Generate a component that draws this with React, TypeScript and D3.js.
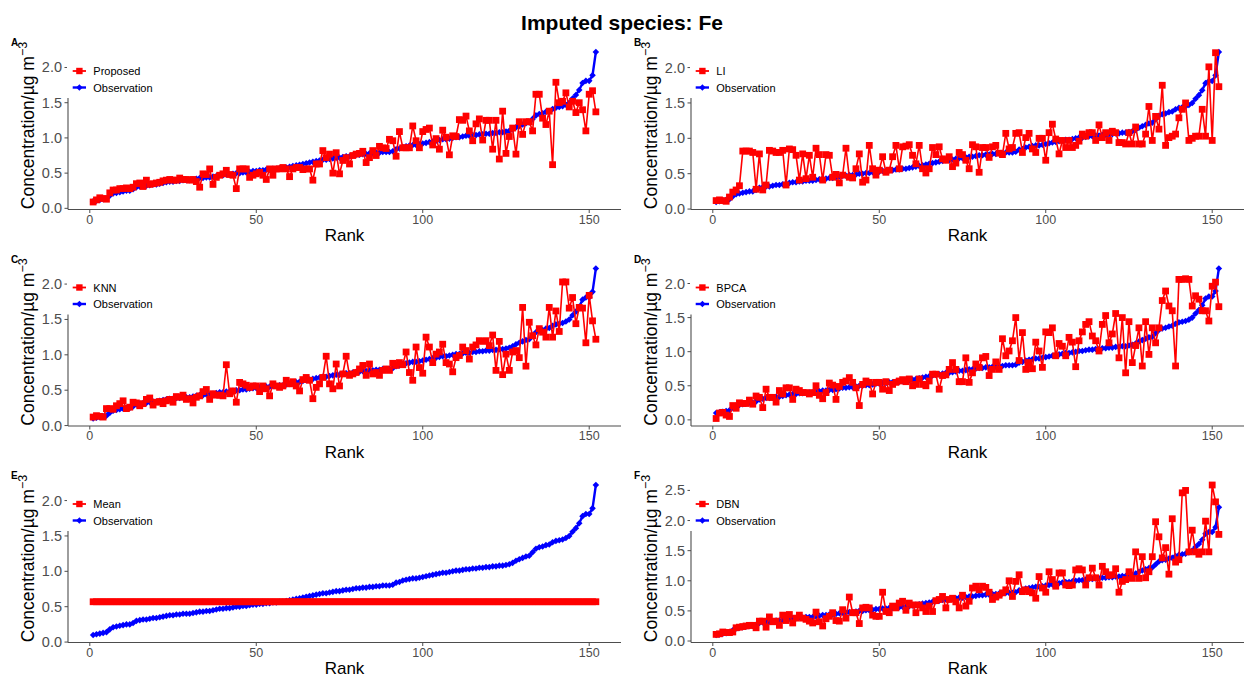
import React from 'react';
import * as d3 from 'd3';

// ---------- data ----------
const observation: number[] = [
  0.10, 0.11, 0.12, 0.13, 0.14, 0.18, 0.21, 0.22, 0.23, 0.24,
  0.25, 0.25, 0.27, 0.30, 0.31, 0.32, 0.32, 0.33, 0.34, 0.34,
  0.35, 0.36, 0.37, 0.38, 0.38, 0.39, 0.39, 0.40, 0.40, 0.40,
  0.41, 0.42, 0.43, 0.43, 0.44, 0.44, 0.45, 0.46, 0.47, 0.47,
  0.48, 0.48, 0.49, 0.50, 0.50, 0.51, 0.51, 0.52, 0.53, 0.53,
  0.54, 0.54, 0.55, 0.55, 0.56, 0.56, 0.57, 0.57, 0.58, 0.59,
  0.60, 0.61, 0.62, 0.63, 0.64, 0.65, 0.66, 0.67, 0.68, 0.69,
  0.69, 0.70, 0.71, 0.72, 0.72, 0.73, 0.74, 0.74, 0.75, 0.76,
  0.76, 0.77, 0.77, 0.78, 0.78, 0.79, 0.79, 0.80, 0.80, 0.80,
  0.81, 0.84, 0.85, 0.87, 0.88, 0.89, 0.90, 0.90, 0.91, 0.92,
  0.93, 0.94, 0.95, 0.96, 0.97, 0.98, 0.98, 0.99, 1.00, 1.01,
  1.01, 1.02, 1.03, 1.03, 1.04, 1.04, 1.05, 1.05, 1.06, 1.06,
  1.07, 1.07, 1.08, 1.08, 1.09, 1.10, 1.12, 1.15, 1.17, 1.19,
  1.21, 1.22, 1.27, 1.32, 1.34, 1.35, 1.37, 1.38, 1.41, 1.43,
  1.44, 1.45, 1.47, 1.50, 1.56, 1.61, 1.68, 1.78, 1.81, 1.81,
  1.89, 2.22,
];

const proposed: number[] = [
  0.09, 0.12, 0.15, 0.14, 0.13, 0.22, 0.26, 0.26, 0.28, 0.28,
  0.29, 0.28, 0.30, 0.35, 0.36, 0.31, 0.40, 0.34, 0.35, 0.36,
  0.37, 0.39, 0.40, 0.41, 0.40, 0.40, 0.43, 0.41, 0.41, 0.40,
  0.41, 0.38, 0.30, 0.49, 0.48, 0.56, 0.34, 0.44, 0.47, 0.49,
  0.54, 0.48, 0.47, 0.28, 0.56, 0.56, 0.56, 0.44, 0.47, 0.49,
  0.51, 0.47, 0.41, 0.56, 0.47, 0.56, 0.56, 0.58, 0.56, 0.45,
  0.56, 0.58, 0.58, 0.55, 0.56, 0.56, 0.40, 0.63, 0.63, 0.82,
  0.72, 0.77, 0.50, 0.79, 0.49, 0.68, 0.72, 0.63, 0.75, 0.77,
  0.78, 0.81, 0.65, 0.72, 0.82, 0.75, 0.88, 0.86, 0.85, 0.98,
  0.96, 0.74, 1.09, 0.86, 0.86, 0.86, 1.17, 0.96, 0.86, 1.09,
  1.12, 1.14, 0.90, 0.99, 0.84, 1.11, 1.01, 0.76, 1.03, 1.02,
  1.26, 1.25, 1.31, 1.10, 0.96, 1.20, 1.27, 0.97, 1.25, 1.25,
  0.84, 1.25, 0.70, 1.38, 0.78, 1.02, 1.14, 0.77, 1.23, 1.05,
  1.23, 1.23, 1.10, 1.62, 1.62, 1.28, 1.19, 1.38, 0.62, 1.79,
  1.50, 1.52, 1.64, 1.44, 1.52, 1.36, 1.50, 1.40, 1.10, 1.62,
  1.67, 1.37,
];

const li: number[] = [
  0.12, 0.13, 0.12, 0.11, 0.17, 0.24, 0.27, 0.33, 0.82, 0.82,
  0.82, 0.80, 0.28, 0.78, 0.27, 0.34, 0.83, 0.82, 0.80, 0.80,
  0.83, 0.34, 0.85, 0.84, 0.76, 0.41, 0.78, 0.43, 0.76, 0.45,
  0.86, 0.77, 0.41, 0.77, 0.76, 0.45, 0.49, 0.37, 0.48, 0.86,
  0.45, 0.44, 0.57, 0.78, 0.38, 0.41, 0.90, 0.57, 0.48, 0.55,
  0.74, 0.52, 0.55, 0.74, 0.90, 0.57, 0.88, 0.89, 0.91, 0.76,
  0.64, 0.90, 0.57, 0.51, 0.57, 0.87, 0.77, 0.88, 0.71, 0.69,
  0.74, 0.60, 0.65, 0.80, 0.77, 0.69, 0.57, 0.91, 0.88, 0.52,
  0.87, 0.87, 0.73, 0.88, 0.90, 0.79, 0.77, 1.07, 0.85, 0.87,
  1.07, 1.08, 0.80, 1.01, 1.07, 0.85, 0.80, 1.00, 1.00, 0.69,
  1.08, 1.20, 0.99, 0.78, 0.97, 0.87, 0.97, 0.87, 0.90, 0.96,
  1.06, 1.03, 1.08, 1.08, 0.97, 1.19, 1.01, 1.08, 0.97, 1.10,
  1.08, 0.94, 0.94, 0.92, 1.08, 0.92, 1.16, 0.92, 0.92, 1.06,
  1.45, 0.97, 1.31, 1.13, 1.75, 0.90, 1.01, 1.03, 1.06, 1.29,
  1.41, 1.50, 0.97, 1.00, 1.03, 1.03, 1.41, 1.03, 2.01, 0.97,
  2.21, 1.73,
];

const knn: number[] = [
  0.12, 0.14, 0.13, 0.12, 0.24, 0.24, 0.23, 0.28, 0.31, 0.35,
  0.24, 0.26, 0.33, 0.32, 0.28, 0.31, 0.37, 0.39, 0.29, 0.33,
  0.34, 0.31, 0.35, 0.37, 0.33, 0.41, 0.40, 0.43, 0.37, 0.38,
  0.32, 0.40, 0.42, 0.48, 0.51, 0.37, 0.45, 0.43, 0.43, 0.42,
  0.86, 0.45, 0.49, 0.33, 0.61, 0.59, 0.57, 0.54, 0.56, 0.56,
  0.48, 0.56, 0.52, 0.42, 0.59, 0.56, 0.54, 0.56, 0.64, 0.59,
  0.62, 0.56, 0.49, 0.65, 0.68, 0.64, 0.38, 0.54, 0.59, 0.68,
  0.98, 0.59, 0.52, 0.87, 0.56, 0.73, 0.98, 0.71, 0.73, 0.75,
  0.80, 0.85, 0.71, 0.87, 0.73, 0.75, 0.71, 0.78, 0.80, 0.78,
  0.88, 0.85, 0.89, 0.86, 1.04, 0.75, 0.64, 1.11, 0.82, 0.74,
  1.25, 1.11, 0.89, 1.01, 1.04, 1.15, 0.89, 0.87, 0.76, 0.96,
  0.99, 1.11, 1.06, 0.94, 1.11, 1.14, 1.20, 1.19, 1.20, 1.13,
  1.28, 0.78, 1.19, 0.72, 1.01, 0.78, 1.04, 1.06, 0.96, 1.67,
  0.84, 1.46, 1.27, 1.14, 1.37, 1.32, 1.25, 1.67, 1.25, 1.62,
  1.33, 2.03, 2.03, 1.66, 1.81, 1.44, 1.67, 1.66, 1.17, 1.84,
  1.48, 1.22,
];

const bpca: number[] = [
  0.02, 0.10, 0.11, 0.07, 0.05, 0.21, 0.17, 0.25, 0.24, 0.24,
  0.29, 0.23, 0.35, 0.33, 0.18, 0.45, 0.33, 0.33, 0.26, 0.43,
  0.38, 0.47, 0.47, 0.30, 0.45, 0.43, 0.40, 0.40, 0.38, 0.40,
  0.50, 0.36, 0.31, 0.40, 0.54, 0.51, 0.30, 0.49, 0.55, 0.57,
  0.62, 0.55, 0.47, 0.21, 0.52, 0.57, 0.55, 0.38, 0.55, 0.55,
  0.45, 0.56, 0.43, 0.52, 0.55, 0.57, 0.59, 0.56, 0.60, 0.50,
  0.52, 0.60, 0.52, 0.50, 0.57, 0.67, 0.67, 0.45, 0.65, 0.66,
  0.74, 0.84, 0.74, 0.56, 0.56, 0.91, 0.55, 0.69, 0.82, 0.77,
  0.91, 0.93, 0.65, 0.74, 0.85, 0.74, 1.19, 0.94, 1.01, 1.16,
  1.50, 0.87, 1.28, 0.74, 0.84, 0.75, 1.14, 1.01, 0.77, 1.29,
  1.28, 1.35, 0.94, 1.12, 1.08, 0.94, 1.21, 1.14, 0.78, 1.16,
  1.29, 1.40, 1.44, 1.23, 1.16, 1.01, 1.40, 1.53, 1.13, 1.26,
  1.56, 0.91, 1.50, 0.69, 1.44, 0.84, 1.09, 1.35, 0.79, 1.44,
  0.96, 1.35, 1.13, 1.35, 1.75, 1.89, 1.67, 1.60, 0.79, 2.06,
  2.06, 2.07, 2.06, 1.67, 1.82, 1.77, 1.60, 1.60, 1.45, 1.96,
  2.02, 1.66,
];

const dbn: number[] = [
  0.11, 0.12, 0.15, 0.14, 0.14, 0.15, 0.22, 0.23, 0.24, 0.25,
  0.26, 0.26, 0.22, 0.33, 0.33, 0.23, 0.40, 0.32, 0.33, 0.26,
  0.43, 0.34, 0.44, 0.30, 0.38, 0.43, 0.38, 0.36, 0.33, 0.30,
  0.48, 0.32, 0.25, 0.37, 0.41, 0.47, 0.34, 0.33, 0.52, 0.38,
  0.73, 0.47, 0.47, 0.29, 0.55, 0.56, 0.55, 0.43, 0.41, 0.41,
  0.81, 0.49, 0.47, 0.58, 0.55, 0.63, 0.66, 0.51, 0.63, 0.60,
  0.47, 0.60, 0.55, 0.49, 0.58, 0.49, 0.67, 0.69, 0.74, 0.55,
  0.69, 0.71, 0.65, 0.55, 0.76, 0.58, 0.66, 0.88, 0.91, 0.85,
  0.91, 0.89, 0.81, 0.69, 0.73, 0.76, 0.80, 0.85, 1.00, 0.74,
  0.99, 1.10, 0.82, 0.85, 0.82, 0.80, 0.71, 1.07, 0.88, 0.81,
  1.15, 1.02, 0.91, 1.13, 1.13, 0.93, 0.92, 0.93, 1.18, 1.20,
  1.18, 0.93, 1.05, 1.21, 1.05, 0.93, 1.24, 1.15, 1.09, 1.10,
  1.20, 0.81, 0.99, 1.02, 1.15, 1.04, 1.48, 1.04, 1.40, 1.05,
  1.15, 1.40, 1.98, 1.73, 1.38, 1.55, 1.11, 2.03, 1.31, 1.35,
  2.46, 2.50, 1.48, 1.84, 1.48, 1.44, 1.48, 1.99, 1.48, 2.59,
  2.31, 1.77,
];

// Mean imputation: a single constant value
const MEAN_VALUE = 0.57;
const meanImputed: number[] = observation.map(() => MEAN_VALUE);

const xTickValues = [0, 50, 100, 150];
const panelTags = ['A', 'B', 'C', 'D', 'E', 'F'];
const methodNames = ['Proposed', 'LI', 'KNN', 'BPCA', 'Mean', 'DBN'];
const methodSeries = [proposed, li, knn, bpca, meanImputed, dbn];

// ---------- layout ----------
const W = 1244;
const H = 677;
const COL_X = [68, 691];
const PLOT_W = 553;
const ROW_Y = [44.5, 261, 477.5];
const PLOT_H = 165;
const RED = '#FF0000';
const BLUE = '#0000FF';
const AXIS = '#4d4d4d';
const FONT = '"Liberation Sans", Arial, Helvetica, sans-serif';

function diamond(cx: number, cy: number, r: number) {
  return `M${cx},${cy - r}L${cx + r},${cy}L${cx},${cy + r}L${cx - r},${cy}Z`;
}

function Panel({ idx }: { idx: number }) {
  const col = idx % 2;
  const row = Math.floor(idx / 2);
  const x0 = COL_X[col];
  const y0 = ROW_Y[row];
  const values = methodSeries[idx];
  const ranks = observation.map((_, i) => i + 1);

  const [rMin, rMax] = d3.extent(ranks) as [number, number];
  const rPad = (rMax - rMin) * 0.05;
  const x = d3.scaleLinear().domain([rMin - rPad, rMax + rPad]).range([x0, x0 + PLOT_W]);

  const [vMin, vMax] = d3.extent(observation.concat(values)) as [number, number];
  const vPad = (vMax - vMin) * 0.05;
  const y = d3.scaleLinear().domain([vMin - vPad, vMax + vPad]).range([y0 + PLOT_H, y0]);
  const yTicks = y.ticks(5).filter((t) => Math.abs(t * 2 - Math.round(t * 2)) < 1e-9);

  const line = d3
    .line<number>()
    .x((_, i) => x(i + 1))
    .y((d) => y(d));

  const sq = 6.8;
  const xBottom = y0 + PLOT_H;

  return (
    <g>
      {/* axes */}
      <line x1={x0} x2={x0} y1={y0} y2={xBottom} stroke={AXIS} strokeWidth={1.1} />
      <line x1={x0} x2={x0 + PLOT_W} y1={xBottom} y2={xBottom} stroke={AXIS} strokeWidth={1.1} />
      {yTicks.map((t) => (
        <g key={'yt' + t}>
          <line x1={x0 - 3.5} x2={x0} y1={y(t)} y2={y(t)} stroke={AXIS} strokeWidth={1} />
          <text
            x={x0 - 6}
            y={y(t)}
            textAnchor="end"
            dominantBaseline="central"
            fontSize={14.5}
            fill={AXIS}
            fontFamily={FONT}
          >
            {d3.format('.1f')(t)}
          </text>
        </g>
      ))}
      {xTickValues.map((t) => (
        <g key={'xt' + t}>
          <line x1={x(t)} x2={x(t)} y1={xBottom} y2={xBottom + 3.5} stroke={AXIS} strokeWidth={1} />
          <text
            x={x(t)}
            y={xBottom + 14}
            textAnchor="middle"
            fontSize={12.5}
            fill={AXIS}
            fontFamily={FONT}
          >
            {t}
          </text>
        </g>
      ))}
      <text
        x={x0 + PLOT_W / 2}
        y={xBottom + 31.5}
        textAnchor="middle"
        fontSize={17}
        fill="#000"
        fontFamily={FONT}
      >
        Rank
      </text>
      <text
        transform={`translate(${x0 - 34},${y0 + 81}) rotate(-90)`}
        textAnchor="middle"
        fontSize={17.5}
        fill="#000"
        fontFamily={FONT}
      >
        Concentration/µg m
        <tspan dy={-7} fontSize={12.5}>
          −3
        </tspan>
      </text>
      <text x={x0 - 57} y={y0 + 1.5} fontSize={10} fontWeight="bold" fill="#000" fontFamily={FONT}>
        {panelTags[idx]}
      </text>

      {/* observation */}
      <path d={line(observation) || ''} fill="none" stroke={BLUE} strokeWidth={2.4} />
      {observation.map((v, i) => (
        <path key={'o' + i} d={diamond(x(i + 1), y(v), 3.3)} fill={BLUE} />
      ))}

      {/* imputed */}
      <path d={line(values) || ''} fill="none" stroke={RED} strokeWidth={1.6} />
      {values.map((v, i) => (
        <rect key={'p' + i} x={x(i + 1) - sq / 2} y={y(v) - sq / 2} width={sq} height={sq} fill={RED} />
      ))}

      {/* legend (white box hides the top of the y axis, as in the reference) */}
      <rect x={x0 - 1} y={y0 - 6} width={106} height={59.5} fill="#fff" />
      <g fontFamily={FONT} fontSize={11} fill="#000">
        <line x1={x0 + 4.7} x2={x0 + 18} y1={y0 + 26.5} y2={y0 + 26.5} stroke={RED} strokeWidth={1.8} />
        <rect x={x0 + 11.4 - 3.2} y={y0 + 26.5 - 3.2} width={6.4} height={6.4} fill={RED} />
        <text x={x0 + 25.3} y={y0 + 26.5} dominantBaseline="central">
          {methodNames[idx]}
        </text>
        <line x1={x0 + 4.7} x2={x0 + 18} y1={y0 + 43} y2={y0 + 43} stroke={BLUE} strokeWidth={2.4} />
        <path d={diamond(x0 + 11.4, y0 + 43, 3.2)} fill={BLUE} />
        <text x={x0 + 25.3} y={y0 + 43} dominantBaseline="central">
          Observation
        </text>
      </g>
    </g>
  );
}

export default function App() {
  return (
    <svg
      width={W}
      height={H}
      viewBox={`0 0 ${W} ${H}`}
      style={{ position: 'absolute', left: 0, top: 0, background: '#fff' }}
    >
      <rect x={0} y={0} width={W} height={H} fill="#fff" />
      <text
        x={622}
        y={30}
        textAnchor="middle"
        fontSize={21}
        fontWeight="bold"
        fill="#000"
        fontFamily={FONT}
      >
        Imputed species: Fe
      </text>
      {methodNames.map((_, i) => (
        <Panel key={i} idx={i} />
      ))}
    </svg>
  );
}
